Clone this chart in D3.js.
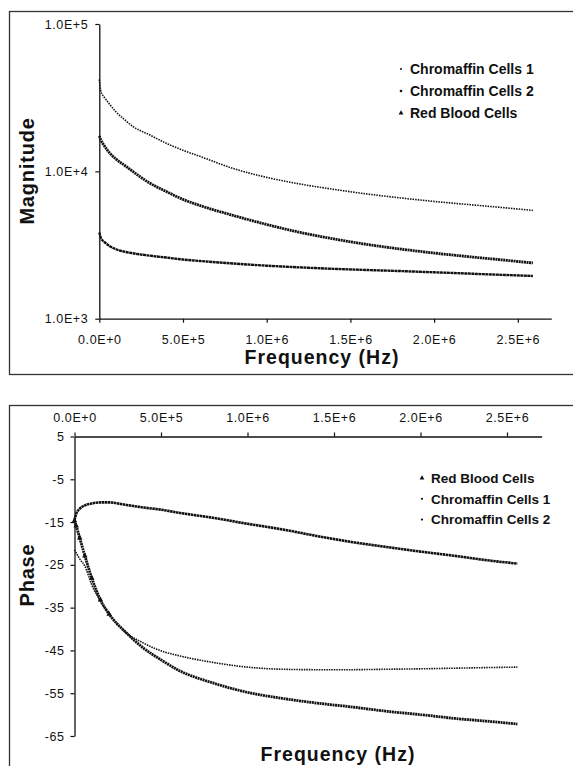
<!DOCTYPE html>
<html>
<head>
<meta charset="utf-8">
<script src="https://cdn.jsdelivr.net/npm/d3@7"></script>
<style>
  body { margin: 0; background: #fff; }
  text { font-family: "Liberation Sans", Arial, sans-serif; fill: #111; }
</style>
</head>
<body>
<div id="chart"></div>
<script>
// frequency grid (Hz)
const magFreq = [0, 1e4, 3e4, 6e4, 1e5, 1.5e5, 2e5, 3e5, 4e5, 5e5, 6e5, 8e5, 1e6, 1.2e6, 1.4e6, 1.6e6, 1.8e6, 2e6, 2.2e6, 2.4e6, 2.59e6];
const magCC1 = [42000, 34800, 31800, 28700, 25300, 22500, 20200, 17700, 15500, 13900, 12650, 10460, 9100, 8200, 7550, 7020, 6600, 6250, 5960, 5690, 5430];
const magCC2 = [17400, 16300, 14900, 13400, 12100, 11000, 9990, 8340, 7300, 6450, 5870, 5020, 4360, 3850, 3480, 3190, 2970, 2790, 2640, 2510, 2390];
const magRBC = [3850, 3530, 3320, 3120, 2960, 2850, 2780, 2680, 2600, 2520, 2465, 2370, 2290, 2230, 2180, 2140, 2105, 2065, 2025, 1985, 1950];

const phaseFreq = [0, 1e4, 3e4, 6e4, 1e5, 1.5e5, 2e5, 3e5, 4e5, 5e5, 6e5, 8e5, 1e6, 1.2e6, 1.4e6, 1.6e6, 1.8e6, 2e6, 2.2e6, 2.4e6, 2.56e6];
const phaseRBC = [-14.7, -15.9, -18.7, -22.9, -28.1, -33.2, -36.5, -40.9, -44.5, -47.2, -49.6, -52.6, -54.8, -56.2, -57.3, -58.2, -59.2, -60.0, -60.9, -61.6, -62.2];
const phaseCC1 = [-21.5, -22.2, -23.6, -25.3, -29.7, -33.4, -36.5, -40.9, -43.3, -45.1, -46.2, -47.8, -48.9, -49.4, -49.5, -49.5, -49.4, -49.3, -49.15, -49.0, -48.9];
const phaseCC2 = [-14.5, -13.1, -11.9, -11.1, -10.65, -10.4, -10.4, -11.0, -11.6, -12.1, -12.8, -14.0, -15.4, -16.7, -18.25, -19.65, -20.8, -21.9, -22.9, -24.0, -24.7];

const freqTicks = [0, 5e5, 1e6, 1.5e6, 2e6, 2.5e6];
const magTicks = [1e3, 1e4, 1e5];
const phaseTicks = [5, -5, -15, -25, -35, -45, -55, -65];

const magLegend = ["Chromaffin Cells 1", "Chromaffin Cells 2", "Red Blood Cells"];
const phaseLegend = ["Red Blood Cells", "Chromaffin Cells 1", "Chromaffin Cells 2"];

const sci = d => d.toExponential(1).toUpperCase();

const svg = d3.select("#chart")
  .append("svg")
    .attr("width", 573)
    .attr("height", 766);

svg.append("rect").attr("width", 573).attr("height", 766).attr("fill", "#fff");

// frames round the two panels
svg.append("rect")
  .attr("x", 9.5).attr("y", 11.5).attr("width", 580).attr("height", 363)
  .attr("fill", "none").attr("stroke", "#333").attr("stroke-width", 1.3);
svg.append("rect")
  .attr("x", 9.5).attr("y", 405.5).attr("width", 580).attr("height", 380)
  .attr("fill", "none").attr("stroke", "#333").attr("stroke-width", 1.3);

function styleAxis(g) {
  g.select(".domain").attr("stroke", "#111").attr("stroke-width", 1.3);
  g.selectAll(".tick line").attr("stroke", "#111").attr("stroke-width", 1.2);
  g.selectAll("text")
    .attr("fill", "#111")
    .style("font-family", '"Liberation Sans", Arial, sans-serif')
    .style("font-size", "12.5px")
    .style("letter-spacing", "0.6px");
}

// ---------- Magnitude ----------
var magX = d3.scaleLinear().domain([0, 2.7e6]).range([99.3, 551.3]);
var magY = d3.scaleLog().domain([1e3, 1e5]).range([318.7, 24]);

svg.append("g")
  .attr("transform", "translate(0,318.7)")
  .call(d3.axisBottom(magX).tickValues(freqTicks).tickFormat(sci)
    .tickSize(4).tickSizeOuter(0).tickPadding(12))
  .call(styleAxis);

svg.append("g")
  .attr("transform", "translate(99.3,0)")
  .call(d3.axisLeft(magY).tickValues(magTicks).tickFormat(sci)
    .tickSize(4).tickSizeOuter(0).tickPadding(7))
  .call(styleAxis);

var magLine = d3.line()
  .x(d => magX(d[0]))
  .y(d => magY(d[1]))
  .curve(d3.curveMonotoneX);

var magSeries = [
  {vals: magCC1, width: 1.6, dash: "1.5,1.1"},
  {vals: magCC2, width: 2.8, dash: "2,0.6"},
  {vals: magRBC, width: 2.4, dash: "3,0.5"}
];
magSeries.forEach(s => {
  svg.append("path")
    .datum(magFreq.map((f, i) => [f, s.vals[i]]))
    .attr("d", magLine)
    .attr("fill", "none")
    .attr("stroke", "#111")
    .attr("stroke-width", s.width)
    .attr("stroke-dasharray", s.dash);
});

svg.append("text")
  .attr("x", 322).attr("y", 364)
  .attr("text-anchor", "middle")
  .style("font-size", "19.5px").style("font-weight", "bold").style("letter-spacing", "1px")
  .text("Frequency (Hz)");
svg.append("text")
  .attr("transform", "translate(33.5,171) rotate(-90)")
  .attr("text-anchor", "middle")
  .style("font-size", "20px").style("font-weight", "bold").style("letter-spacing", "0.8px")
  .text("Magnitude");

var magLeg = svg.append("g").attr("transform", "translate(401,69)");
magLegend.forEach((name, i) => {
  var row = magLeg.append("g").attr("transform", `translate(0,${i * 22})`);
  if (i == 2) {
    row.append("path").attr("d", d3.symbol(d3.symbolTriangle, 10)).attr("fill", "#111");
  } else {
    row.append("circle").attr("r", i == 0 ? 1 : 1.3).attr("fill", "#111");
  }
  row.append("text")
    .attr("x", 9).attr("dy", "0.36em")
    .style("font-size", "14px").style("font-weight", "bold")
    .text(name);
});

// ---------- Phase ----------
var phX = d3.scaleLinear().domain([0, 2.7e6]).range([74.5, 541.6]);
var phY = d3.scaleLinear().domain([-65, 5]).range([736, 436.5]);

svg.append("g")
  .attr("transform", "translate(0,436.5)")
  .call(d3.axisTop(phX).tickValues(freqTicks).tickFormat(sci)
    .tickSize(4).tickSizeOuter(0).tickPadding(11))
  .call(styleAxis);

svg.append("g")
  .attr("transform", "translate(74.5,0)")
  .call(d3.axisLeft(phY).tickValues(phaseTicks).tickFormat(d => String(d))
    .tickSize(4).tickSizeOuter(0).tickPadding(6))
  .call(styleAxis);

var phLine = d3.line()
  .x(d => phX(d[0]))
  .y(d => phY(d[1]))
  .curve(d3.curveMonotoneX);

var phSeries = [
  {vals: phaseCC2, width: 2.6, dash: "2.5,0.5"},
  {vals: phaseCC1, width: 1.6, dash: "1.5,1"},
  {vals: phaseRBC, width: 2.8, dash: "2,0.6"}
];
phSeries.forEach(s => {
  svg.append("path")
    .datum(phaseFreq.map((f, i) => [f, s.vals[i]]))
    .attr("d", phLine)
    .attr("fill", "none")
    .attr("stroke", "#111")
    .attr("stroke-width", s.width)
    .attr("stroke-dasharray", s.dash);
});

// triangle markers of the red blood cell series, where the points spread apart
svg.selectAll(".rbcTri")
  .data(phaseFreq.map((f, i) => [f, phaseRBC[i]]).filter(d => d[0] <= 2e5))
  .enter()
  .append("path")
    .attr("class", "rbcTri")
    .attr("d", d3.symbol(d3.symbolTriangle, 13))
    .attr("transform", d => `translate(${phX(d[0])},${phY(d[1])})`)
    .attr("fill", "#111");

svg.append("text")
  .attr("x", 338).attr("y", 761)
  .attr("text-anchor", "middle")
  .style("font-size", "19.5px").style("font-weight", "bold").style("letter-spacing", "1px")
  .text("Frequency (Hz)");
svg.append("text")
  .attr("transform", "translate(33.5,575) rotate(-90)")
  .attr("text-anchor", "middle")
  .style("font-size", "20px").style("font-weight", "bold").style("letter-spacing", "0.8px")
  .text("Phase");

var phLeg = svg.append("g").attr("transform", "translate(422,478)");
phaseLegend.forEach((name, i) => {
  var row = phLeg.append("g").attr("transform", `translate(0,${i * 20.8})`);
  if (i == 0) {
    row.append("path").attr("d", d3.symbol(d3.symbolTriangle, 10)).attr("fill", "#111");
  } else {
    row.append("circle").attr("r", 1.1).attr("fill", "#111");
  }
  row.append("text")
    .attr("x", 9).attr("dy", "0.36em")
    .style("font-size", "13.5px").style("font-weight", "bold")
    .text(name);
});
</script>
</body>
</html>
